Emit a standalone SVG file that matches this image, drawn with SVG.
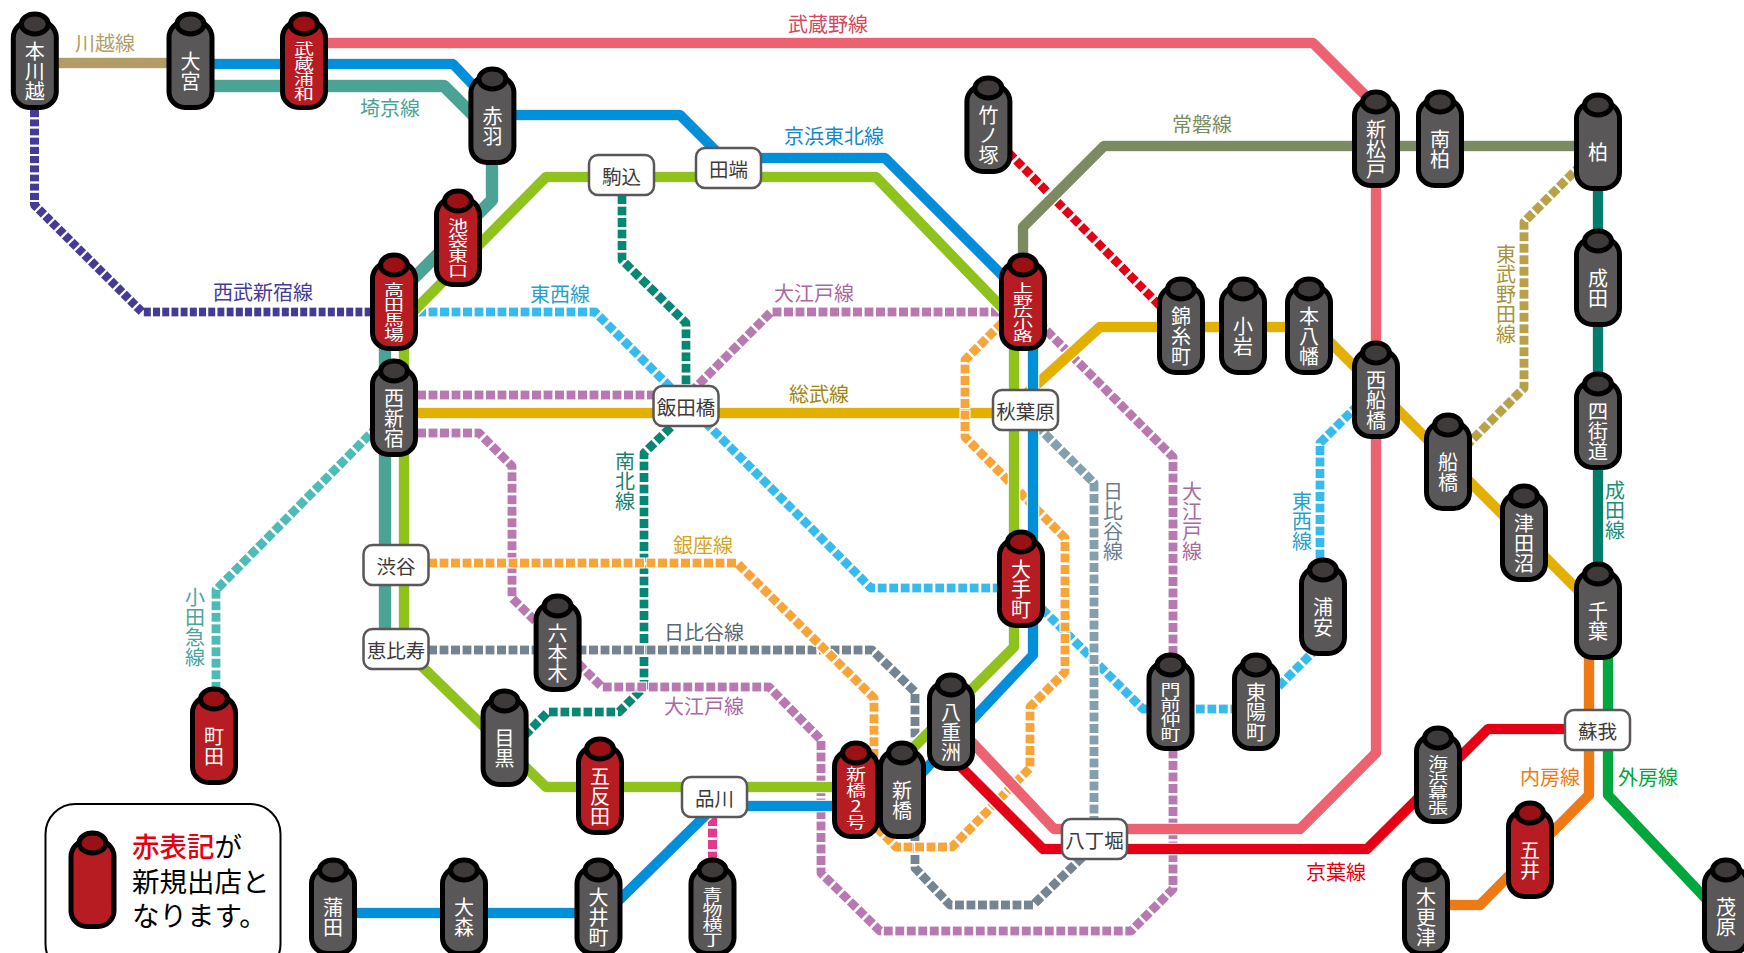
<svg xmlns="http://www.w3.org/2000/svg" width="1744" height="953" viewBox="0 0 1744 953">
<style>
text{font-family:"Noto Sans CJK JP","Noto Sans",sans-serif;text-anchor:middle;dominant-baseline:central}
.v{fill:#fff;font-size:20px;writing-mode:vertical-rl;text-orientation:upright}
.b text{fill:#3e3a39;font-size:19.5px}
.b rect{fill:#fff;stroke:#595757;stroke-width:2.5}
.t{font-size:20px}
.tv{font-size:20px;writing-mode:vertical-rl;text-orientation:upright}
#legend text{font-family:"Liberation Sans","Noto Sans CJK JP",sans-serif;text-anchor:start;font-size:27.5px;fill:#000}
#lines path{fill:none;stroke-width:10.5;stroke-linejoin:round;filter:url(#halo)}
#lines path.d{stroke-width:9;stroke-dasharray:9 2.5}
</style>
<defs>
<filter id="halo" filterUnits="userSpaceOnUse" x="0" y="0" width="1744" height="953"><feMorphology in="SourceAlpha" operator="dilate" radius="1" result="m"/><feFlood flood-color="#fff"/><feComposite in2="m" operator="in"/><feMerge><feMergeNode/><feMergeNode in="SourceGraphic"/></feMerge></filter>
<g id="sg"><rect x="-21.5" y="9.5" width="43" height="86" rx="16" fill="#595757" stroke="#000" stroke-width="5"/><ellipse cy="12" rx="13.5" ry="10" fill="#3e3a39" stroke="#000" stroke-width="5"/></g>
<g id="sr"><rect x="-21.5" y="9.5" width="43" height="86" rx="16" fill="#b71c22" stroke="#000" stroke-width="5"/><ellipse cy="12" rx="13.5" ry="10" fill="#9a1015" stroke="#000" stroke-width="5"/></g>
</defs>
<g id="lines">
<path class="d" stroke="#e60012" d="M1000 144L1170 316"/>
<path class="d" stroke="#008a75" d="M622 195V260L686 323V386"/>
<path class="d" stroke="#008a75" d="M671 427L644 453V687L619 712H548L520 740"/>
<path class="d" stroke="#443a97" style="stroke-dasharray:7.2 2" d="M34.5 110V205L142 312H380"/>
<path class="d" stroke="#4bbcb8" d="M394 410L216 590V690"/>
<path class="d" stroke="#36bcef" d="M394 312H595L871 588H1021L1143 709H1256L1323 642"/>
<path class="d" stroke="#36bcef" d="M1320 570V443L1376 387"/>
<path class="d" stroke="#b8a245" d="M1598 148L1524 222V388L1448 464"/>
<path class="d" stroke="#e3388f" d="M712.5 817V860"/>
<path class="d" stroke="#b978b1" d="M394 395H680"/>
<path class="d" stroke="#b978b1" d="M394 433H479L512 466V598L602 687H769L821 740V873L880 931H1131L1173 889V457L1023 307"/>
<path class="d" stroke="#b978b1" d="M1023 312H771L690 393"/>
<path class="d" stroke="#748492" d="M428 650H872L915 692V868L950 905H1033L1095 845"/>
<path class="d" stroke="#84a0ae" d="M1094 825V483L1035 424"/>
<path stroke="#e3b000" d="M394 413H1025"/>
<path stroke="#e3b000" d="M1025 395L1100 327H1315L1598 610"/>
<path class="d" stroke="#f7a535" d="M428 563H737L874 698V825L896 847H952L1030 768V707L1065 672V538L965 437V360L1023 302"/>
<path stroke="#b39d66" d="M35 63H190"/>
<path stroke="#4ba396" style="stroke-width:12.5" d="M190 86H444L492 134V200L385 307V640"/>
<path stroke="#0090d9" d="M190 64H453L492 105V115H680L723 158H885L1033 306V655L920 775"/>
<path stroke="#0090d9" d="M856 806H715L606 913H333"/>
<path stroke="#8fc31f" d="M856 787H546L404 649V321L546 177H876L1014 320V647L900 761"/>
<path stroke="#ec6270" d="M304 43H1313L1376 106V753L1300 829H1054L951 720"/>
<path stroke="#e60012" d="M951 757L1043 849H1367L1488 729H1590"/>
<path stroke="#7b8b5f" d="M1598 146H1104L1023 227V270"/>
<path stroke="#007d6a" d="M1598 146V600"/>
<path stroke="#ee7a13" d="M1589 650V795L1480 905H1426"/>
<path stroke="#00a73c" d="M1608 650V795L1726 920"/>
</g>
<g id="labels">
<text class="t" x="105" y="42" fill="#b39d66">川越線</text>
<text class="t" x="390" y="107" fill="#4ba396">埼京線</text>
<text class="t" x="828" y="23" fill="#d2495f">武蔵野線</text>
<text class="t" x="263" y="291" fill="#443a97">西武新宿線</text>
<text class="t" x="560" y="293" fill="#2a9fc9">東西線</text>
<text class="t" x="834" y="135" fill="#1488c9">京浜東北線</text>
<text class="t" x="1202" y="123" fill="#7b8b5f">常磐線</text>
<text class="t" x="814" y="292" fill="#a9699f">大江戸線</text>
<text class="t" x="819" y="393" fill="#a38509">総武線</text>
<text class="t" x="703" y="544" fill="#d6a418">銀座線</text>
<text class="t" x="704" y="631" fill="#586775">日比谷線</text>
<text class="t" x="704" y="705" fill="#a9699f">大江戸線</text>
<text class="t" x="1336" y="871" fill="#e60012">京葉線</text>
<text class="t" x="1550" y="776" fill="#ee7a13">内房線</text>
<text class="t" x="1648" y="776" fill="#00a73c">外房線</text>
<text class="tv" x="625" y="481" fill="#1b7f6e">南北線</text>
<text class="tv" x="195" y="627" fill="#4ba3a0">小田急線</text>
<text class="tv" x="1113" y="521" fill="#6b7d8a">日比谷線</text>
<text class="tv" x="1192" y="521" fill="#a9699f">大江戸線</text>
<text class="tv" x="1302" y="521" fill="#2a9fc9">東西線</text>
<text class="tv" x="1506" y="294" fill="#a9923a">東武野田線</text>
<text class="tv" x="1615" y="510" fill="#1b8f78">成田線</text>
</g>
<g id="n-hongawagoe" transform="translate(34.8,12)"><use href="#sg"/><text class="v" y="59">本川越</text></g>
<g id="n-omiya" transform="translate(190.5,12)"><use href="#sg"/><text class="v" y="59">大宮</text></g>
<g id="n-musashiurawa" transform="translate(304,12)"><use href="#sr"/><text class="v" transform="translate(0,59) scale(1,.75)">武蔵浦和</text></g>
<g id="n-akabane" transform="translate(492.4,67)"><use href="#sg"/><text class="v" y="59">赤羽</text></g>
<g id="n-ikebukuro" transform="translate(458,189)"><use href="#sr"/><text class="v" transform="translate(0,59) scale(1,.75)">池袋東口</text></g>
<g id="n-takadanobaba" transform="translate(394,253)"><use href="#sr"/><text class="v" transform="translate(0,59) scale(1,.75)">高田馬場</text></g>
<g id="n-nishishinjuku" transform="translate(394,359)"><use href="#sg"/><text class="v" y="59">西新宿</text></g>
<g id="n-takenotsuka" transform="translate(988.4,76)"><use href="#sg"/><text class="v" y="59">竹ノ塚</text></g>
<g id="n-uenohirokoji" transform="translate(1023,253)"><use href="#sr"/><text class="v" transform="translate(0,59) scale(1,.6)">上野広小路</text></g>
<g id="n-otemachi" transform="translate(1021,530)"><use href="#sr"/><text class="v" y="59">大手町</text></g>
<g id="n-yaesu" transform="translate(951,673)"><use href="#sg"/><text class="v" y="59">八重洲</text></g>
<g id="n-shinbashi2" transform="translate(856,741)"><use href="#sr"/><text class="v" transform="translate(0,57) scale(1,.8)">新橋2号</text></g>
<g id="n-shinbashi" transform="translate(902,741)"><use href="#sg"/><text class="v" y="59">新橋</text></g>
<g id="n-gotanda" transform="translate(600,737)"><use href="#sr"/><text class="v" y="59">五反田</text></g>
<g id="n-oimachi" transform="translate(598.5,858)"><use href="#sg"/><text class="v" y="59">大井町</text></g>
<g id="n-aomono" transform="translate(712.5,858)"><use href="#sg"/><text class="v" transform="translate(0,59) scale(1,.75)">青物横丁</text></g>
<g id="n-monzen" transform="translate(1170.5,653)"><use href="#sg"/><text class="v" transform="translate(0,59) scale(1,.75)">門前仲町</text></g>
<g id="n-toyocho" transform="translate(1256,653)"><use href="#sg"/><text class="v" y="59">東陽町</text></g>
<g id="n-urayasu" transform="translate(1323,558)"><use href="#sg"/><text class="v" y="59">浦安</text></g>
<g id="n-kaihin" transform="translate(1438,726)"><use href="#sg"/><text class="v" transform="translate(0,59) scale(1,.75)">海浜幕張</text></g>
<g id="n-goi" transform="translate(1530,801)"><use href="#sr"/><text class="v" y="59">五井</text></g>
<g id="n-kisarazu" transform="translate(1426,858)"><use href="#sg"/><text class="v" y="59">木更津</text></g>
<g id="n-mobara" transform="translate(1726,858)"><use href="#sg"/><text class="v" y="59">茂原</text></g>
<g id="n-chiba" transform="translate(1598,562)"><use href="#sg"/><text class="v" y="59">千葉</text></g>
<g id="n-shinmatsudo" transform="translate(1376,90)"><use href="#sg"/><text class="v" y="59">新松戸</text></g>
<g id="n-minamikashiwa" transform="translate(1440,90)"><use href="#sg"/><text class="v" y="59">南柏</text></g>
<g id="n-kashiwa" transform="translate(1598,93)"><use href="#sg"/><text class="v" y="59">柏</text></g>
<g id="n-narita" transform="translate(1598,229)"><use href="#sg"/><text class="v" y="59">成田</text></g>
<g id="n-yotsukaido" transform="translate(1598,372)"><use href="#sg"/><text class="v" y="59">四街道</text></g>
<g id="n-nishifunabashi" transform="translate(1376,341)"><use href="#sg"/><text class="v" y="59">西船橋</text></g>
<g id="n-funabashi" transform="translate(1448,413)"><use href="#sg"/><text class="v" y="59">船橋</text></g>
<g id="n-tsudanuma" transform="translate(1524,484)"><use href="#sg"/><text class="v" y="59">津田沼</text></g>
<g id="n-kinshicho" transform="translate(1181,277)"><use href="#sg"/><text class="v" y="59">錦糸町</text></g>
<g id="n-koiwa" transform="translate(1243,277)"><use href="#sg"/><text class="v" y="59">小岩</text></g>
<g id="n-motoyawata" transform="translate(1309,277)"><use href="#sg"/><text class="v" y="59">本八幡</text></g>
<g id="n-machida" transform="translate(214,687)"><use href="#sr"/><text class="v" y="59">町田</text></g>
<g id="n-meguro" transform="translate(504.6,689)"><use href="#sg"/><text class="v" y="59">目黒</text></g>
<g id="n-roppongi" transform="translate(557.6,594)"><use href="#sg"/><text class="v" y="59">六本木</text></g>
<g id="n-kamata" transform="translate(333,858)"><use href="#sg"/><text class="v" y="59">蒲田</text></g>
<g id="n-omori" transform="translate(464,858)"><use href="#sg"/><text class="v" y="59">大森</text></g>
<g id="n-komagome" class="b"><rect x="589" y="155" width="65" height="40" rx="9"/><text x="621.5" y="175">駒込</text></g>
<g id="n-tabata" class="b"><rect x="696" y="148" width="65" height="40" rx="9"/><text x="728.5" y="168">田端</text></g>
<g id="n-iidabashi" class="b"><rect x="653.5" y="386" width="65" height="40" rx="9"/><text x="686" y="406">飯田橋</text></g>
<g id="n-akihabara" class="b"><rect x="993" y="390" width="65" height="40" rx="9"/><text x="1025.5" y="410">秋葉原</text></g>
<g id="n-shibuya" class="b"><rect x="363.5" y="545" width="65" height="40" rx="9"/><text x="396" y="565">渋谷</text></g>
<g id="n-ebisu" class="b"><rect x="363.5" y="629" width="65" height="40" rx="9"/><text x="396" y="649">恵比寿</text></g>
<g id="n-shinagawa" class="b"><rect x="682" y="777" width="65" height="40" rx="9"/><text x="714.5" y="797">品川</text></g>
<g id="n-hatchobori" class="b"><rect x="1062" y="819" width="65" height="40" rx="9"/><text x="1094.5" y="839">八丁堀</text></g>
<g id="n-soga" class="b"><rect x="1565" y="710" width="65" height="40" rx="9"/><text x="1597.5" y="730">蘇我</text></g>
<g id="legend">
<rect x="45.5" y="804" width="235" height="170" rx="30" fill="#fff" stroke="#000" stroke-width="2"/>
<use href="#sr" x="92.5" y="831"/>
<text x="132" y="847"><tspan fill="#e60012" font-weight="500">赤表記</tspan>が</text>
<text x="132" y="882">新規出店と</text>
<text x="132" y="916">なります。</text>
</g>
</svg>
